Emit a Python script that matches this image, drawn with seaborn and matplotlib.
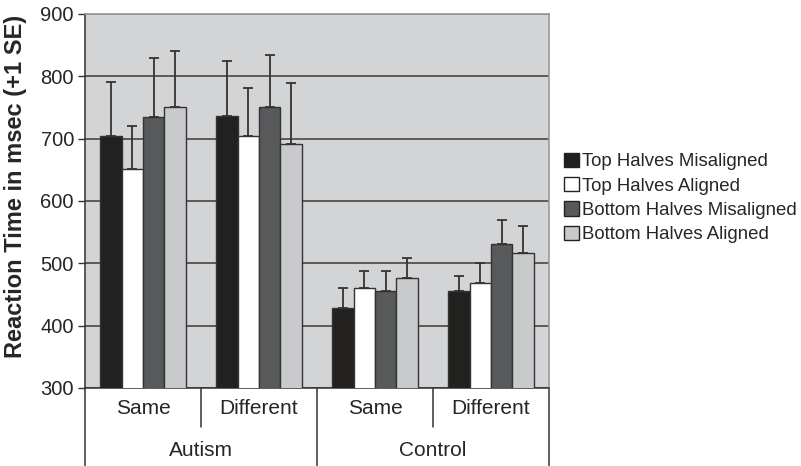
import matplotlib
matplotlib.use("Agg")
import matplotlib.pyplot as plt
from matplotlib.patches import Patch
import seaborn as sns
import pandas as pd
import numpy as np

# Reaction times (msec) per group / trial type / condition
groups = ["Autism", "Autism", "Control", "Control"]
trial_types = ["Same", "Different", "Same", "Different"]
conditions = ["Top Halves Misaligned", "Top Halves Aligned",
              "Bottom Halves Misaligned", "Bottom Halves Aligned"]
top_misaligned = [705, 737, 429, 455]
top_aligned = [651, 704, 460, 468]
bottom_misaligned = [734, 751, 456, 531]
bottom_aligned = [751, 692, 476, 517]
se_top_misaligned = [86, 87, 31, 25]
se_top_aligned = [69, 78, 27, 32]
se_bottom_misaligned = [95, 84, 31, 38]
se_bottom_aligned = [90, 98, 32, 43]
y_ticks = [300, 400, 500, 600, 700, 800, 900]

colors = ["#231f20", "#ffffff", "#58595b", "#c9cacc"]

means = [top_misaligned, top_aligned, bottom_misaligned, bottom_aligned]
ses = [se_top_misaligned, se_top_aligned, se_bottom_misaligned, se_bottom_aligned]
cells = [f"{g} {t}" for g, t in zip(groups, trial_types)]

rows = []
for cond, m, s in zip(conditions, means, ses):
    for cell, v, e in zip(cells, m, s):
        rows.append({"cell": cell, "condition": cond, "rt": v, "se": e})
df = pd.DataFrame(rows)

sns.set_theme(style="white")
plt.rcParams["font.family"] = ["Liberation Sans", "DejaVu Sans"]

fig = plt.figure(figsize=(8.01, 4.66), dpi=100)
ax = fig.add_axes([85 / 801, 1 - 388 / 466, 464 / 801, 374 / 466])
ax.set_facecolor("#d3d4d6")

sns.barplot(data=df, x="cell", y="rt", hue="condition", order=cells,
            hue_order=conditions, palette=colors, width=0.735,
            edgecolor="#333333", linewidth=1.0, errorbar=None,
            legend=False, ax=ax, zorder=3)

# upward-only error bars from each bar's own height
for cond_idx, cond in enumerate(conditions):
    bars = ax.containers[cond_idx]
    for bar, e in zip(bars, ses[cond_idx]):
        xc = bar.get_x() + bar.get_width() / 2
        h = bar.get_height()
        ax.errorbar([xc], [h], yerr=[[0], [e]], fmt="none",
                    ecolor="#333333", elinewidth=1.3, capsize=3.3,
                    capthick=1.3, zorder=4)

ax.set_ylim(300, 900)
ax.set_xlim(-0.5, 3.5)
ax.set_yticks(y_ticks)
ax.set_yticklabels([str(t) for t in y_ticks], fontsize=14.5)
ax.yaxis.grid(True, color="#3a3a3a", linewidth=1.1)
ax.set_axisbelow(True)
ax.tick_params(axis="y", direction="out", length=5, width=1, color="#333333",
               left=True, pad=3)
ax.set_xticks([])
ax.set_xlabel("")
ax.set_ylabel("Reaction Time in msec (+1 SE)", fontsize=17,
              fontweight="bold")
ax.yaxis.set_label_coords(-0.125, (388 - 186) / 374)

for side in ["top", "right"]:
    ax.spines[side].set_color("#9a9a9a")
    ax.spines[side].set_linewidth(1.2)
for side in ["left", "bottom"]:
    ax.spines[side].set_color("#333333")
    ax.spines[side].set_linewidth(1.1)

# two-level category axis below the plot
trans = ax.get_xaxis_transform()
sub_bottom = -39 / 374
grp_bottom = -78 / 374
for xb in [-0.5, 1.5, 3.5]:
    ax.plot([xb, xb], [0, grp_bottom], transform=trans, color="#333333",
            lw=1.1, clip_on=False)
for xb in [0.5, 2.5]:
    ax.plot([xb, xb], [0, sub_bottom], transform=trans, color="#333333",
            lw=1.1, clip_on=False)
for i, t in enumerate(trial_types):
    ax.text(i, -20.5 / 374, t, transform=trans, ha="center", va="center",
            fontsize=15)
for gi, g in enumerate(["Autism", "Control"]):
    ax.text(gi * 2 + 0.5, -63 / 374, g, transform=trans, ha="center",
            va="center", fontsize=15)

handles = [Patch(facecolor=c, edgecolor="#222222", linewidth=1.0, label=l)
           for c, l in zip(colors, conditions)]
fig.legend(handles=handles, loc="center left",
           bbox_to_anchor=(564 / 801, 1 - 198 / 466), frameon=False,
           fontsize=13.4, handlelength=0.8, handleheight=0.8,
           handletextpad=0.17, labelspacing=0.36, borderpad=0,
           borderaxespad=0)

fig.savefig("out.png", dpi=100, facecolor="white")
